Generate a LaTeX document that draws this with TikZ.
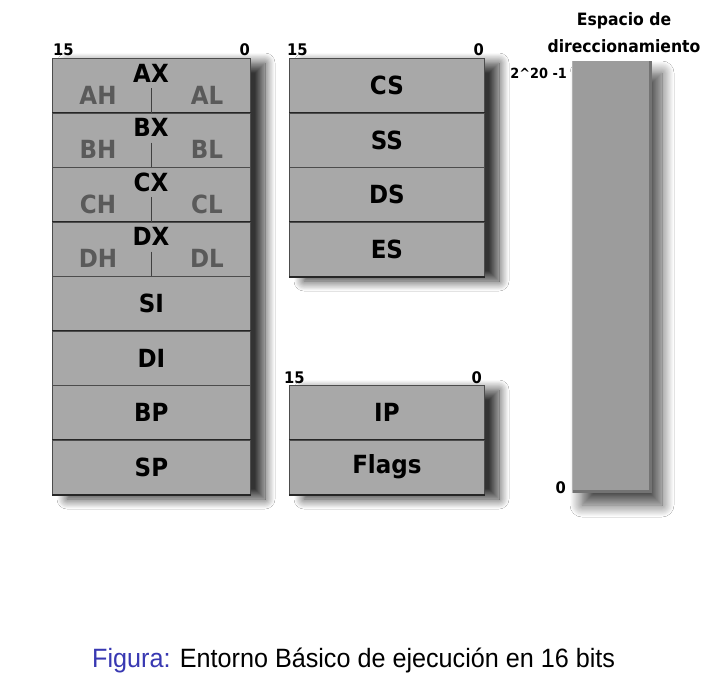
\documentclass[tikz,border=0pt]{standalone}
\usepackage{fontspec}
\setmainfont{DejaVu Sans}
\newfontfamily\regfont{DejaVu Sans}[FakeStretch=0.92]
\newfontfamily\capfont{Liberation Sans}[FakeStretch=0.95]
\usetikzlibrary{shadows.blur}
\definecolor{boxgray}{HTML}{A8A8A8}
\definecolor{bargray}{HTML}{9C9C9C}
\definecolor{subgray}{HTML}{5A5A5A}
\definecolor{figblue}{rgb}{0.22,0.22,0.70}
\begin{document}
\begin{tikzpicture}[x=1pt,y=-1pt,
  colshadow/.style={fill=boxgray, blur shadow={shadow xshift=15pt, shadow yshift=-5pt, shadow blur radius=10pt, shadow blur steps=16, shadow opacity=80}},
  regbox/.style={draw=black!70, line width=0.8pt, fill=boxgray, minimum height=54.5pt, inner sep=0pt, anchor=north west,
    font=\regfont\bfseries\fontsize{25}{25}\selectfont},
  widebox/.style={regbox, minimum width=198pt},
  midbox/.style={regbox, minimum width=195pt},
  bottomline/.style={line width=2pt, black!85},
  big/.style={font=\regfont\bfseries\fontsize{25}{25}\selectfont, inner sep=0pt},
  sub/.style={big, text=subgray},
  bits/.style={font=\regfont\bfseries\fontsize{16}{16}\selectfont, inner sep=0pt},
  divider/.style={line width=1pt, black!75}
]
\useasboundingbox (0,0) rectangle (714,675);
\fill[white] (0,0) rectangle (714,675);

% column shadows
\fill[colshadow] (52,58) rectangle (250,494);
\fill[colshadow] (289,58) rectangle (484,276);
\fill[colshadow] (289,385) rectangle (484,494);

% left column
\foreach \n/\top/\lab in {ax/58/A, bx/112.5/B, cx/167/C, dx/221.5/D}{
  \node[widebox] (\n) at (52,\top) {};
  \draw[bottomline] (\n.south west) -- (\n.south east);
  \node[big] (\n t) at (151,\top+15) {\lab X};
  \node[sub] (\n h) at (98,\top+37) {\lab H};
  \node[sub] (\n l) at (207,\top+37) {\lab L};
  \coordinate (\n d1) at (151,\top+30);
  \coordinate (\n d2) at (151,\top+54.5);
  \draw[divider] (\n d1) -- (\n d2);
}
\foreach \n/\top/\lab in {si/276/SI, di/330.5/DI, bp/385/BP, sp/439.5/SP}{
  \node[widebox] (\n) at (52,\top) {\lab};
  \draw[bottomline] (\n.south west) -- (\n.south east);
}

% middle column (segments)
\foreach \n/\top/\lab in {cs/58/CS, ss/112.5/SS, ds/167/DS, es/221.5/ES, ip/385/IP, fl/439.5/Flags}{
  \node[midbox] (\n) at (289,\top) {\lab};
  \draw[bottomline] (\n.south west) -- (\n.south east);
}

% bit labels
\node[bits, anchor=base west] (l15a) at (53,55) {15};
\node[bits, anchor=base east] (l0a) at (250,55) {0};
\node[bits, anchor=base west] (l15b) at (287,55) {15};
\node[bits, anchor=base east] (l0b) at (484,55) {0};
\node[bits, anchor=base west] (l15c) at (284,383) {15};
\node[bits, anchor=base east] (l0c) at (482,383) {0};

% address space bar
\fill[bargray, blur shadow={shadow xshift=10pt, shadow yshift=-12pt, shadow blur radius=12pt, shadow blur steps=16, shadow opacity=70}] (572,61) rectangle (652,493);
\node[draw=none, fill=bargray, minimum width=80pt, minimum height=432pt, inner sep=0pt, anchor=north west] (mem) at (572,61) {};
\draw[line width=3pt, black!55] ([xshift=-1.5pt]mem.north east) -- ([xshift=-1.5pt]mem.south east);
\draw[line width=3pt, black!55] ([yshift=1.5pt]mem.south west) -- ([yshift=1.5pt]mem.south east);
\draw[line width=1pt, black!30] (mem.north west) -- (mem.south west);

\node[font=\regfont\bfseries\fontsize{14}{14}\selectfont, inner sep=0pt, anchor=base east] (top) at (567,78) {2\textasciicircum 20 -1};
\node[bits, anchor=base east] (bot) at (566,493) {0};
\node[font=\regfont\bfseries\fontsize{17}{17}\selectfont, inner sep=0pt] (esp) at (624,21) {Espacio de};
\node[font=\regfont\bfseries\fontsize{17}{17}\selectfont, inner sep=0pt] (dir) at (624,46) {direccionamiento};

% caption
\node[font=\capfont\fontsize{26.5}{26.5}\selectfont, inner sep=0pt, anchor=base west] (cap) at (92,667) {\textcolor{figblue}{Figura:} Entorno Básico de ejecución en 16 bits};
\end{tikzpicture}
\end{document}
